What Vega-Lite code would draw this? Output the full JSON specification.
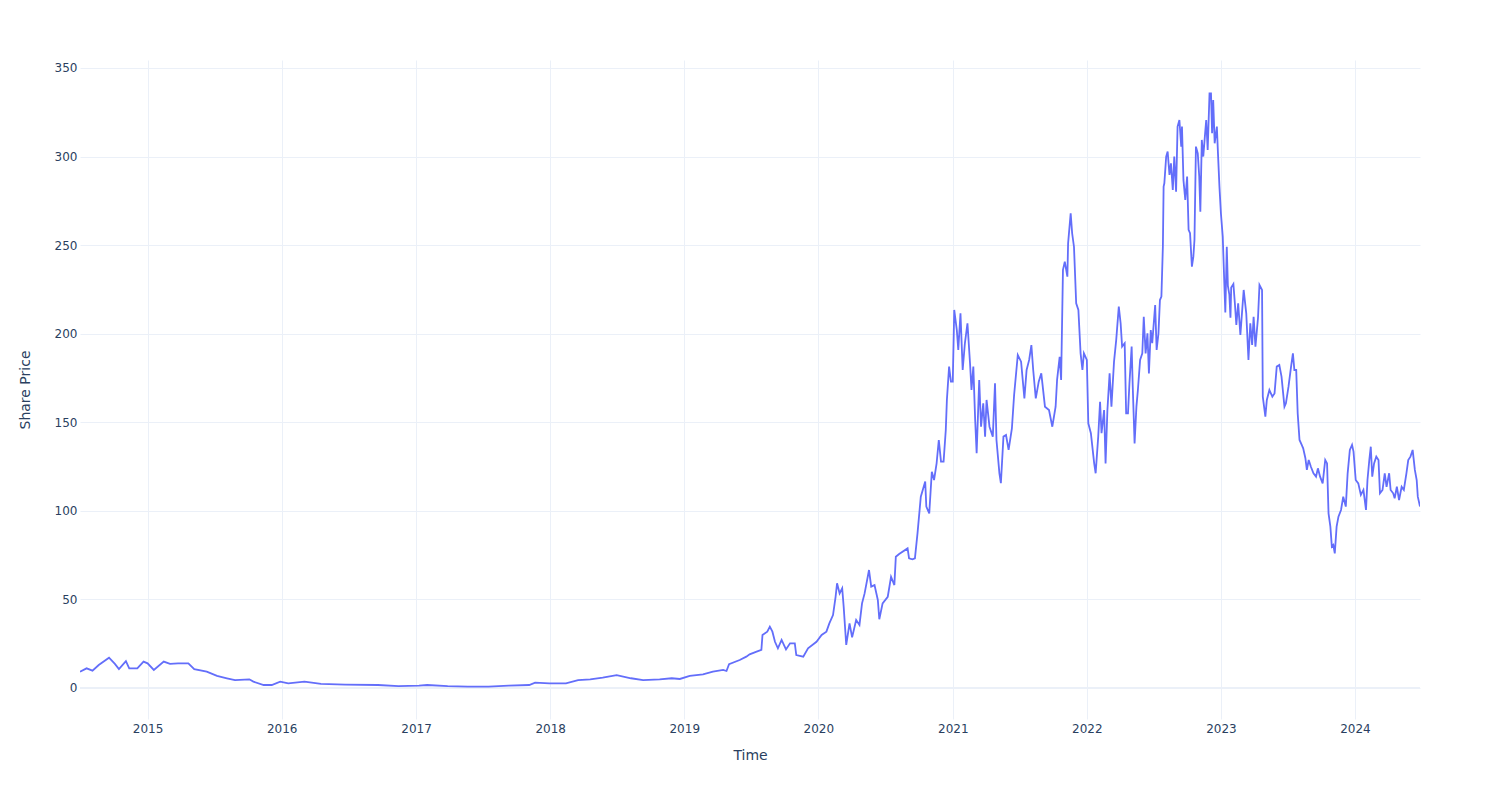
{
  "$schema": "https://vega.github.io/schema/vega-lite/v6.json",
  "width": 1340,
  "height": 659,
  "autosize": {"type": "none"},
  "padding": {"left": 80, "top": 60, "right": 80, "bottom": 81},
  "background": "white",
  "config": {"view": {"stroke": null}, "font": "DejaVu Sans"},
  "encoding": {
    "y": {
      "field": "price",
      "type": "quantitative",
      "title": "Share Price",
      "scale": {"domain": [-17.5, 354.5], "nice": false, "zero": false},
      "axis": {
        "values": [0, 50, 100, 150, 200, 250, 300, 350],
        "grid": true, "gridColor": "#EBF0F8", "gridWidth": 1,
        "domain": false, "ticks": false,
        "labelPadding": 3, "labelFontSize": 12, "labelColor": "#2a3f5f", "labelFont": "DejaVu Sans",
        "titleFontSize": 14, "titleColor": "#2a3f5f", "titleFontWeight": "normal", "titleFont": "DejaVu Sans",
        "titlePadding": 22
      }
    }
  },
  "layer": [
    {
      "data": {"values": [{"price": 0}]},
      "mark": {"type": "rule", "color": "#EBF0F8", "strokeWidth": 2},
      "encoding": {}
    },
    {
      "data": {"values": [
        {"date":"2014-07-01","price":9.2},{"date":"2014-07-19","price":11.1},{"date":"2014-08-04","price":9.8},{"date":"2014-08-21","price":13},{"date":"2014-09-18","price":17.1},{"date":"2014-10-04","price":13.6},{"date":"2014-10-15","price":10.7},{"date":"2014-11-03","price":15.2},{"date":"2014-11-12","price":11.1},{"date":"2014-12-04","price":11.1},{"date":"2014-12-21","price":14.9},
        {"date":"2015-01-01","price":13.9},{"date":"2015-01-18","price":10.2},{"date":"2015-02-14","price":14.9},{"date":"2015-03-03","price":13.6},{"date":"2015-03-25","price":13.9},{"date":"2015-04-22","price":13.9},{"date":"2015-05-08","price":10.6},{"date":"2015-06-11","price":9.2},{"date":"2015-07-09","price":6.8},{"date":"2015-08-05","price":5.5},{"date":"2015-08-27","price":4.5},{"date":"2015-10-05","price":4.9},{"date":"2015-10-16","price":3.6},{"date":"2015-11-13","price":1.7},{"date":"2015-12-05","price":1.7},{"date":"2015-12-28","price":3.6},
        {"date":"2016-01-19","price":2.6},{"date":"2016-03-03","price":3.6},{"date":"2016-04-17","price":2.3},{"date":"2016-06-22","price":1.9},{"date":"2016-09-19","price":1.7},{"date":"2016-11-14","price":1.1},
        {"date":"2017-01-09","price":1.3},{"date":"2017-01-31","price":1.7},{"date":"2017-03-28","price":1.1},{"date":"2017-05-22","price":0.8},{"date":"2017-07-17","price":0.8},{"date":"2017-09-10","price":1.3},{"date":"2017-11-05","price":1.7},{"date":"2017-11-21","price":3.0},{"date":"2017-12-30","price":2.6},
        {"date":"2018-02-13","price":2.6},{"date":"2018-03-18","price":4.5},{"date":"2018-04-20","price":4.9},{"date":"2018-05-24","price":5.8},{"date":"2018-07-01","price":7.3},{"date":"2018-08-09","price":5.5},{"date":"2018-09-11","price":4.5},{"date":"2018-10-26","price":4.9},{"date":"2018-11-28","price":5.5},{"date":"2018-12-20","price":5.1},
        {"date":"2019-01-16","price":6.8},{"date":"2019-02-21","price":7.7},{"date":"2019-03-20","price":9.2},{"date":"2019-04-17","price":10.2},{"date":"2019-04-26","price":9.6},{"date":"2019-05-03","price":13.5},{"date":"2019-06-01","price":15.8},{"date":"2019-06-19","price":17.7},{"date":"2019-06-28","price":19},{"date":"2019-07-17","price":20.5},{"date":"2019-07-30","price":21.5},{"date":"2019-08-02","price":29.9},{"date":"2019-08-15","price":31.8},{"date":"2019-08-22","price":34.6},{"date":"2019-08-29","price":31.8},{"date":"2019-09-05","price":26.1},{"date":"2019-09-13","price":22.4},{"date":"2019-09-23","price":27.1},{"date":"2019-10-05","price":21.8},{"date":"2019-10-16","price":25.2},{"date":"2019-10-29","price":25.2},{"date":"2019-11-02","price":18.6},{"date":"2019-11-21","price":17.7},{"date":"2019-12-04","price":22.4},{"date":"2019-12-27","price":26.1},
        {"date":"2020-01-10","price":29.9},{"date":"2020-01-23","price":31.8},{"date":"2020-01-31","price":36.5},{"date":"2020-02-10","price":41.2},{"date":"2020-02-17","price":51.5},{"date":"2020-02-21","price":59.1},{"date":"2020-02-28","price":53.4},{"date":"2020-03-06","price":56.3},{"date":"2020-03-10","price":45.9},{"date":"2020-03-17","price":24.3},{"date":"2020-03-26","price":36.5},{"date":"2020-04-02","price":28.6},{"date":"2020-04-13","price":38.4},{"date":"2020-04-22","price":35.6},{"date":"2020-04-29","price":47.8},{"date":"2020-05-06","price":53.4},{"date":"2020-05-18","price":66.6},{"date":"2020-05-24","price":57.2},{"date":"2020-06-02","price":58.1},{"date":"2020-06-11","price":49.7},{"date":"2020-06-15","price":38.8},{"date":"2020-06-24","price":47.8},{"date":"2020-07-08","price":51.5},{"date":"2020-07-17","price":62.8},{"date":"2020-07-26","price":58.1},{"date":"2020-07-30","price":74.1},{"date":"2020-08-08","price":75.6},{"date":"2020-08-31","price":78.8},{"date":"2020-09-04","price":73.2},{"date":"2020-09-13","price":72.6},{"date":"2020-09-20","price":73.2},{"date":"2020-09-27","price":87.3},{"date":"2020-10-06","price":108},{"date":"2020-10-18","price":116.5},{"date":"2020-10-21","price":102.4},{"date":"2020-10-29","price":98.6},{"date":"2020-11-05","price":122.1},{"date":"2020-11-11","price":117.4},{"date":"2020-11-18","price":126.8},{"date":"2020-11-24","price":140},{"date":"2020-11-30","price":127.8},{"date":"2020-12-07","price":127.8},{"date":"2020-12-13","price":145.6},{"date":"2020-12-16","price":162.6},{"date":"2020-12-22","price":181.4},{"date":"2020-12-27","price":172.9},
        {"date":"2021-01-01","price":172.9},{"date":"2021-01-05","price":213.4},{"date":"2021-01-12","price":202.1},{"date":"2021-01-16","price":190.8},{"date":"2021-01-22","price":211.5},{"date":"2021-01-28","price":179.5},{"date":"2021-02-03","price":194.6},{"date":"2021-02-10","price":205.9},{"date":"2021-02-17","price":183.3},{"date":"2021-02-21","price":168.2},{"date":"2021-02-26","price":181.4},{"date":"2021-03-03","price":151.3},{"date":"2021-03-07","price":132.5},{"date":"2021-03-14","price":173.9},{"date":"2021-03-19","price":147.5},{"date":"2021-03-25","price":160.7},{"date":"2021-03-30","price":141.9},{"date":"2021-04-03","price":162.6},{"date":"2021-04-11","price":147.5},{"date":"2021-04-20","price":141.9},{"date":"2021-04-26","price":172},{"date":"2021-04-30","price":140},{"date":"2021-05-08","price":121.2},{"date":"2021-05-12","price":115.6},{"date":"2021-05-19","price":141.9},{"date":"2021-05-26","price":142.8},{"date":"2021-06-02","price":134.4},{"date":"2021-06-11","price":146.6},{"date":"2021-06-17","price":165.4},{"date":"2021-06-27","price":188},{"date":"2021-07-06","price":184.2},{"date":"2021-07-15","price":163.5},{"date":"2021-07-21","price":179.5},{"date":"2021-07-28","price":185.2},{"date":"2021-08-03","price":193.6},{"date":"2021-08-08","price":179.5},{"date":"2021-08-15","price":163.5},{"date":"2021-08-23","price":172.9},{"date":"2021-08-30","price":177.6},{"date":"2021-09-09","price":158.8},{"date":"2021-09-20","price":156.9},{"date":"2021-09-29","price":147.5},{"date":"2021-10-08","price":158.8},{"date":"2021-10-12","price":173.9},{"date":"2021-10-19","price":187},{"date":"2021-10-23","price":173.9},{"date":"2021-10-28","price":236},{"date":"2021-11-02","price":240.7},{"date":"2021-11-09","price":232.2},{"date":"2021-11-11","price":251},{"date":"2021-11-18","price":268},{"date":"2021-11-22","price":256.7},{"date":"2021-11-27","price":249.1},{"date":"2021-12-03","price":217.2},{"date":"2021-12-09","price":213.4},{"date":"2021-12-15","price":188.9},{"date":"2021-12-20","price":179.5},{"date":"2021-12-24","price":188.9},
        {"date":"2022-01-01","price":185.2},{"date":"2022-01-05","price":149.4},{"date":"2022-01-12","price":143.8},{"date":"2022-01-21","price":126.8},{"date":"2022-01-25","price":121.2},{"date":"2022-02-01","price":141.9},{"date":"2022-02-06","price":161.6},{"date":"2022-02-10","price":143.8},{"date":"2022-02-17","price":156.9},{"date":"2022-02-21","price":126.8},{"date":"2022-02-26","price":156.9},{"date":"2022-03-04","price":177.6},{"date":"2022-03-09","price":158.8},{"date":"2022-03-16","price":184.2},{"date":"2022-03-22","price":196.5},{"date":"2022-03-29","price":215.3},{"date":"2022-04-03","price":205.9},{"date":"2022-04-07","price":192.7},{"date":"2022-04-14","price":194.6},{"date":"2022-04-18","price":155.1},{"date":"2022-04-23","price":155.1},{"date":"2022-04-27","price":172},{"date":"2022-05-03","price":192.7},{"date":"2022-05-06","price":170.1},{"date":"2022-05-11","price":138.1},{"date":"2022-05-16","price":158.8},{"date":"2022-05-20","price":168.2},{"date":"2022-05-26","price":185.2},{"date":"2022-06-01","price":188.9},{"date":"2022-06-05","price":209.6},{"date":"2022-06-10","price":188.9},{"date":"2022-06-15","price":200.2},{"date":"2022-06-19","price":177.6},{"date":"2022-06-24","price":202.1},{"date":"2022-06-28","price":194.6},{"date":"2022-07-06","price":216.2},{"date":"2022-07-10","price":190.8},{"date":"2022-07-15","price":200.2},{"date":"2022-07-19","price":219},{"date":"2022-07-23","price":220.9},{"date":"2022-07-27","price":249.1},{"date":"2022-07-29","price":283},{"date":"2022-07-31","price":284.9},{"date":"2022-08-05","price":300},{"date":"2022-08-09","price":302.8},{"date":"2022-08-14","price":289.6},{"date":"2022-08-18","price":296.2},{"date":"2022-08-23","price":281.1},{"date":"2022-08-27","price":300},{"date":"2022-09-01","price":280.2},{"date":"2022-09-05","price":316.9},{"date":"2022-09-10","price":320.6},{"date":"2022-09-15","price":305.6},{"date":"2022-09-17","price":316.9},{"date":"2022-09-21","price":286.8},{"date":"2022-09-26","price":275.5},{"date":"2022-10-01","price":288.7},{"date":"2022-10-05","price":258.6},{"date":"2022-10-09","price":256.7},{"date":"2022-10-14","price":237.8},{"date":"2022-10-18","price":243.5},{"date":"2022-10-21","price":252.9},{"date":"2022-10-25","price":305.6},{"date":"2022-10-30","price":301.8},{"date":"2022-11-03","price":288.7},{"date":"2022-11-06","price":268.9},{"date":"2022-11-10","price":309.4},{"date":"2022-11-14","price":300},{"date":"2022-11-19","price":313.1},{"date":"2022-11-22","price":320.6},{"date":"2022-11-26","price":303.7},{"date":"2022-12-01","price":335.7},{"date":"2022-12-05","price":335.7},{"date":"2022-12-08","price":313.1},{"date":"2022-12-11","price":331.9},{"date":"2022-12-15","price":307.5},{"date":"2022-12-21","price":316.9},{"date":"2022-12-24","price":301.8},{"date":"2022-12-28","price":283},
        {"date":"2023-01-01","price":268},{"date":"2023-01-06","price":254.8},{"date":"2023-01-10","price":230},{"date":"2023-01-13","price":212},{"date":"2023-01-17","price":249},{"date":"2023-01-20","price":227},{"date":"2023-01-24","price":222},{"date":"2023-01-27","price":209},{"date":"2023-01-29","price":226},{"date":"2023-02-04","price":228},{"date":"2023-02-08","price":217.2},{"date":"2023-02-12","price":204.9},{"date":"2023-02-17","price":217.2},{"date":"2023-02-23","price":199.3},{"date":"2023-03-04","price":224.7},{"date":"2023-03-11","price":211.5},{"date":"2023-03-17","price":185.2},{"date":"2023-03-22","price":205.9},{"date":"2023-03-27","price":193.6},{"date":"2023-03-31","price":209.6},{"date":"2023-04-05","price":192.7},{"date":"2023-04-12","price":209},{"date":"2023-04-16","price":227.5},{"date":"2023-04-23","price":224.7},{"date":"2023-04-25","price":164.5},{"date":"2023-05-02","price":153.2},{"date":"2023-05-06","price":162.6},{"date":"2023-05-13","price":168.2},{"date":"2023-05-21","price":164.5},{"date":"2023-05-27","price":166.3},{"date":"2023-06-02","price":181.4},{"date":"2023-06-09","price":182.3},{"date":"2023-06-15","price":175.8},{"date":"2023-06-23","price":158.8},{"date":"2023-06-27","price":160.7},{"date":"2023-07-04","price":170.1},{"date":"2023-07-11","price":181.4},{"date":"2023-07-16","price":188.9},{"date":"2023-07-20","price":179.5},{"date":"2023-07-25","price":179.5},{"date":"2023-07-29","price":155.1},{"date":"2023-08-03","price":140},{"date":"2023-08-09","price":137.2},{"date":"2023-08-13","price":135.3},{"date":"2023-08-19","price":129.7},{"date":"2023-08-23","price":123.1},{"date":"2023-08-28","price":128.7},{"date":"2023-09-03","price":124.9},{"date":"2023-09-10","price":121.2},{"date":"2023-09-17","price":119.3},{"date":"2023-09-22","price":124},{"date":"2023-09-28","price":119.3},{"date":"2023-10-05","price":115.5},{"date":"2023-10-12","price":128.7},{"date":"2023-10-17","price":126.8},{"date":"2023-10-21","price":98.6},{"date":"2023-10-26","price":91.1},{"date":"2023-10-30","price":79.8},{"date":"2023-11-03","price":80.7},{"date":"2023-11-07","price":76},{"date":"2023-11-12","price":91.1},{"date":"2023-11-17","price":96.7},{"date":"2023-11-24","price":100.5},{"date":"2023-11-30","price":108},{"date":"2023-12-07","price":102.4},{"date":"2023-12-12","price":121.2},{"date":"2023-12-18","price":134.4},{"date":"2023-12-24","price":137.2},{"date":"2023-12-28","price":133.4},
        {"date":"2024-01-03","price":117.4},{"date":"2024-01-10","price":115.5},{"date":"2024-01-17","price":109},{"date":"2024-01-24","price":111.8},{"date":"2024-01-31","price":100.5},{"date":"2024-02-04","price":117.4},{"date":"2024-02-09","price":128.7},{"date":"2024-02-13","price":136.2},{"date":"2024-02-17","price":119.3},{"date":"2024-02-22","price":126.8},{"date":"2024-02-28","price":130.6},{"date":"2024-03-05","price":128.7},{"date":"2024-03-09","price":109.9},{"date":"2024-03-16","price":111.8},{"date":"2024-03-22","price":121.2},{"date":"2024-03-27","price":113.6},{"date":"2024-04-03","price":121.2},{"date":"2024-04-07","price":111.8},{"date":"2024-04-14","price":109.9},{"date":"2024-04-18","price":107.1},{"date":"2024-04-24","price":113.6},{"date":"2024-04-30","price":106.1},{"date":"2024-05-07","price":113.6},{"date":"2024-05-13","price":111.8},{"date":"2024-05-20","price":121.2},{"date":"2024-05-25","price":128.7},{"date":"2024-05-31","price":130.6},{"date":"2024-06-06","price":134.4},{"date":"2024-06-12","price":123.1},{"date":"2024-06-17","price":117.4},{"date":"2024-06-20","price":108},{"date":"2024-06-26","price":102.4}
      ]},
      "mark": {"type": "line", "color": "#636efa", "strokeWidth": 1.8, "clip": true},
      "encoding": {
        "x": {
          "field": "date",
          "type": "temporal",
          "title": "Time",
          "scale": {"domain": [{"year": 2014, "month": 7, "date": 1}, {"year": 2024, "month": 6, "date": 26}], "nice": false},
          "axis": {
            "tickCount": {"interval": "year", "step": 1},
            "format": "%Y",
            "grid": true, "gridColor": "#EBF0F8", "gridWidth": 1,
            "domain": false, "ticks": false,
            "labelPadding": 4, "labelFontSize": 12, "labelColor": "#2a3f5f", "labelFont": "DejaVu Sans",
            "titleFontSize": 14, "titleColor": "#2a3f5f", "titleFontWeight": "normal", "titleFont": "DejaVu Sans",
            "titlePadding": 14
          }
        }
      }
    }
  ]
}
